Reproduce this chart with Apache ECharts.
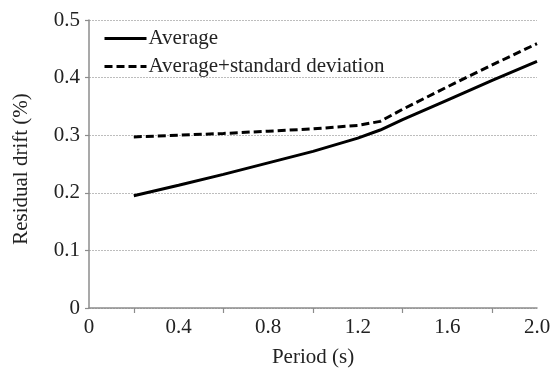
<!DOCTYPE html>
<html>
<head>
<meta charset="utf-8">
<script src="https://cdn.jsdelivr.net/npm/echarts@6/dist/echarts.min.js"></script>
<style>
  html, body { margin: 0; padding: 0; background: #fff; }
  #chart { width: 555px; height: 370px; }
</style>
</head>
<body>
<div id="chart"></div>
<script>
// Period values (s)
const periods = [0.2, 0.4, 0.6, 0.8, 1.0, 1.2, 1.3, 1.4, 1.6, 1.8, 2.0];
// Residual drift (%) — mean
const average = [0.195, 0.213, 0.232, 0.252, 0.272, 0.295, 0.309, 0.327, 0.361, 0.395, 0.428];
// Residual drift (%) — mean plus one standard deviation
const averagePlusSd = [0.297, 0.300, 0.303, 0.307, 0.311, 0.317, 0.324, 0.345, 0.384, 0.422, 0.459];

const seriesNames = ['Average', 'Average+standard deviation'];
const xTickLabels = ['0', '0.4', '0.8', '1.2', '1.6', '2.0'];
const yTickLabels = ['0', '0.1', '0.2', '0.3', '0.4', '0.5'];

const FONT = 'Liberation Serif';
const TEXT = '#222';

const pairs = (xs, ys) => xs.map((x, i) => [x, ys[i]]);

const chart = echarts.init(document.getElementById('chart'), null, { renderer: 'canvas' });
chart.setOption({
  backgroundColor: '#fff',
  animation: false,
  grid: { left: 89, right: 18, top: 20, bottom: 62, containLabel: false, outerBoundsMode: 'none' },
  legend: {
    data: seriesNames,
    orient: 'vertical',
    left: 103,
    top: 28,
    itemWidth: 42,
    itemHeight: 12,
    itemGap: 7,
    backgroundColor: '#fff',
    padding: [0, 4, 0, 0],
    itemStyle: { opacity: 0 },
    lineStyle: { width: 3 },
    textStyle: { fontFamily: FONT, fontSize: 21, color: TEXT, padding: [0, 0, 0, -3] }
  },
  xAxis: {
    type: 'value',
    min: 0,
    max: 2.0,
    interval: 0.4,
    name: 'Period (s)',
    nameLocation: 'middle',
    nameGap: 39,
    nameTextStyle: { fontFamily: FONT, fontSize: 21, color: TEXT },
    axisLine: { show: true, lineStyle: { color: '#8c8c8c', width: 1.5 } },
    axisTick: { show: false },
    minorTick: { show: true, splitNumber: 2, length: 5, lineStyle: { color: '#8c8c8c', width: 1.2 } },
    splitLine: { show: false },
    axisLabel: {
      fontFamily: FONT, fontSize: 21, color: TEXT, margin: 9,
      formatter: (v) => xTickLabels[Math.round(v / 0.4)]
    }
  },
  yAxis: {
    type: 'value',
    min: 0,
    max: 0.5,
    interval: 0.1,
    name: 'Residual drift (%)',
    nameLocation: 'middle',
    nameRotate: 90,
    nameGap: 57,
    nameTextStyle: { fontFamily: FONT, fontSize: 21, color: TEXT, padding: [0, 10, 0, 0] },
    axisLine: { show: true, lineStyle: { color: '#8c8c8c', width: 1.5 } },
    axisTick: { show: true, length: 4, lineStyle: { color: '#8c8c8c', width: 1.2 } },
    splitLine: { show: true, lineStyle: { color: '#bdbdbd', type: [2, 1], width: 1 } },
    axisLabel: {
      fontFamily: FONT, fontSize: 21, color: TEXT, margin: 9,
      formatter: (v) => yTickLabels[Math.round(v * 10)]
    }
  },
  series: [
    {
      name: seriesNames[0],
      type: 'line',
      data: pairs(periods, average),
      symbol: 'none',
      lineStyle: { color: '#000', width: 3, type: 'solid' },
      itemStyle: { color: '#000' }
    },
    {
      name: seriesNames[1],
      type: 'line',
      data: pairs(periods, averagePlusSd),
      symbol: 'none',
      lineStyle: { color: '#000', width: 3, type: [8, 4] },
      itemStyle: { color: '#000' }
    }
  ]
});
</script>
</body>
</html>
